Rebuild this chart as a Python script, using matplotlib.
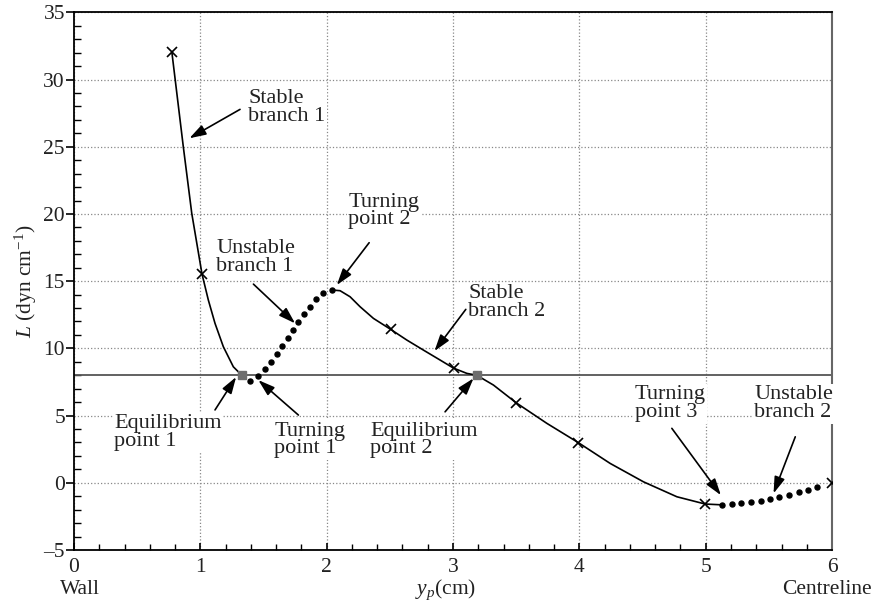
from matplotlib import pyplot as plt
from matplotlib.ticker import MultipleLocator

plt.rcParams['font.family'] = ['Liberation Serif', 'DejaVu Serif']
plt.rcParams['mathtext.fontset'] = 'custom'
plt.rcParams['mathtext.rm'] = 'Liberation Serif'
plt.rcParams['mathtext.it'] = 'Liberation Serif:italic'

# stable branch 1 (solid)
yp_stable1 = [0.774, 0.865, 0.932, 1.013, 1.063, 1.116, 1.182, 1.261, 1.328]
L_stable1 = [32.07, 25.0, 20.04, 15.53, 13.6, 11.86, 10.12, 8.63, 8.0]

# unstable branch 1 (dotted)
yp_unstable1 = [1.394, 1.459, 1.515, 1.563, 1.605, 1.644, 1.69, 1.731, 1.774,
                1.821, 1.869, 1.916, 1.974, 2.045]
L_unstable1 = [7.59, 7.94, 8.44, 9.0, 9.58, 10.17, 10.77, 11.36, 11.96,
               12.55, 13.1, 13.69, 14.14, 14.34]

# stable branch 2 (solid)
yp_stable2 = [2.045, 2.106, 2.185, 2.264, 2.370, 2.507, 2.634, 2.766, 2.898,
              3.004, 3.109, 3.188, 3.32, 3.5, 3.743, 3.993, 4.244, 4.508,
              4.772, 4.996, 5.128]
L_stable2 = [14.34, 14.29, 13.84, 13.10, 12.23, 11.41, 10.62, 9.87, 9.13,
             8.53, 8.14, 8.0, 7.27, 5.95, 4.42, 2.98, 1.44, 0.07,
             -1.04, -1.58, -1.64]

# unstable branch 2 (dotted)
yp_unstable2 = [5.128, 5.207, 5.283, 5.36, 5.437, 5.511, 5.584, 5.661, 5.735,
                5.809, 5.883]
L_unstable2 = [-1.64, -1.59, -1.53, -1.44, -1.34, -1.21, -1.04, -0.89, -0.71,
               -0.54, -0.34]

# computed points (crosses)
yp_pts = [0.774, 1.013, 2.507, 3.004, 3.5, 3.993, 4.996, 6.0]
L_pts = [32.07, 15.53, 11.41, 8.53, 5.95, 2.98, -1.58, -0.04]

# equilibrium points
yp_eq = [1.328, 3.188]
L_eq = [8.0, 8.0]

L_line = 8.0

# label, text pos, arrow tail, arrow tip
notes = [
    ("Stable\nbranch 1", (1.378, 27.95), (1.314, 27.78), (0.913, 25.63)),
    ("Unstable\nbranch 1", (1.124, 16.79), (1.42, 14.78), (1.75, 11.86)),
    ("Turning\npoint 2", (2.172, 20.22), (2.336, 17.86), (2.08, 14.71)),
    ("Stable\nbranch 2", (3.122, 13.41), (3.101, 12.9), (2.853, 9.8)),
    ("Equilibrium\npoint 1", (0.319, 3.73), (1.116, 5.42), (1.283, 7.87)),
    ("Turning\npoint 1", (1.584, 3.18), (1.776, 5.04), (1.459, 7.64)),
    ("Equilibrium\npoint 2", (2.344, 3.18), (2.937, 5.28), (3.162, 7.77)),
    ("Turning\npoint 3", (4.437, 5.88), (4.732, 4.05), (5.12, -0.92)),
    ("Unstable\nbranch 2", (5.384, 5.88), (5.709, 3.42), (5.537, -0.79)),
]

fig = plt.figure(figsize=(8.75, 6.07), dpi=100)
ax = fig.add_axes([0.0846, 0.0939, 0.8663, 0.8858])

ax.axhline(L_line, color='#555555', lw=1.3, zorder=2)

ax.plot(yp_stable1, L_stable1, '-', color='black', lw=1.2, zorder=3)
ax.plot(yp_stable2, L_stable2, '-', color='black', lw=1.2, zorder=3)
ax.plot(yp_unstable1, L_unstable1, 'o', color='black', ms=3.6, zorder=3)
ax.plot(yp_unstable2, L_unstable2, 'o', color='black', ms=3.6, zorder=3)
ax.plot(yp_pts, L_pts, 'x', color='black', ms=6.5, mew=1.2, zorder=4)
ax.plot(yp_eq, L_eq, 's', color='#6e6e6e', ms=6, zorder=4)

for txt, tpos, tail, tip in notes:
    ax.text(tpos[0], tpos[1], txt, fontsize=16, ha='left', va='center',
            linespacing=0.92, color='#222222',
            bbox=dict(facecolor='white', edgecolor='none', pad=1), zorder=5)
    ax.annotate("", xy=tip, xytext=tail,
                arrowprops=dict(arrowstyle='-|>,head_length=1.0,head_width=0.32',
                                color='black', lw=1.2, shrinkA=0, shrinkB=0),
                zorder=6)

ax.set_xlim(0, 6)
ax.set_ylim(-5, 35)
ax.xaxis.set_major_locator(MultipleLocator(1))
ax.xaxis.set_minor_locator(MultipleLocator(0.2))
ax.yaxis.set_major_locator(MultipleLocator(5))
ax.yaxis.set_minor_locator(MultipleLocator(1))
ax.tick_params(axis='x', which='major', direction='in', length=5, width=1.2,
               labelsize=15.5, pad=6, labelcolor='#222222')
ax.tick_params(axis='x', which='minor', direction='in', length=4, width=1.0)
ax.tick_params(axis='y', which='major', direction='out', length=6, width=1.2,
               labelsize=15.5, pad=0.5, labelcolor='#222222')
ax.tick_params(axis='y', which='minor', direction='in', length=5, width=1.0)
ax.yaxis.set_major_formatter(plt.FuncFormatter(lambda v, p: f"{v:.0f}".replace('-', '\u2013')))

ax.grid(True, which='major', linestyle=':', color='#888888', lw=0.9)
for s in ['left', 'bottom', 'top']:
    ax.spines[s].set_linewidth(1.3)
ax.spines['right'].set_color('#666666')
ax.spines['right'].set_linewidth(1.5)

ax.set_ylabel("$L$ (dyn cm$^{-1}$)", fontsize=15.5, labelpad=3, color='#222222')
ax.set_xlabel("$y_p$(cm)", fontsize=15.5, labelpad=2, color='#222222')
ax.xaxis.set_label_coords(0.49, -0.052)
fig.text(80 / 875, 1 - 590 / 607, "Wall", fontsize=15.5, ha='center', va='center',
         color='#222222')
fig.text(872 / 875, 1 - 590 / 607, "Centreline", fontsize=15.5, ha='right', va='center',
         color='#222222')

plt.savefig("out.png", dpi=100)
